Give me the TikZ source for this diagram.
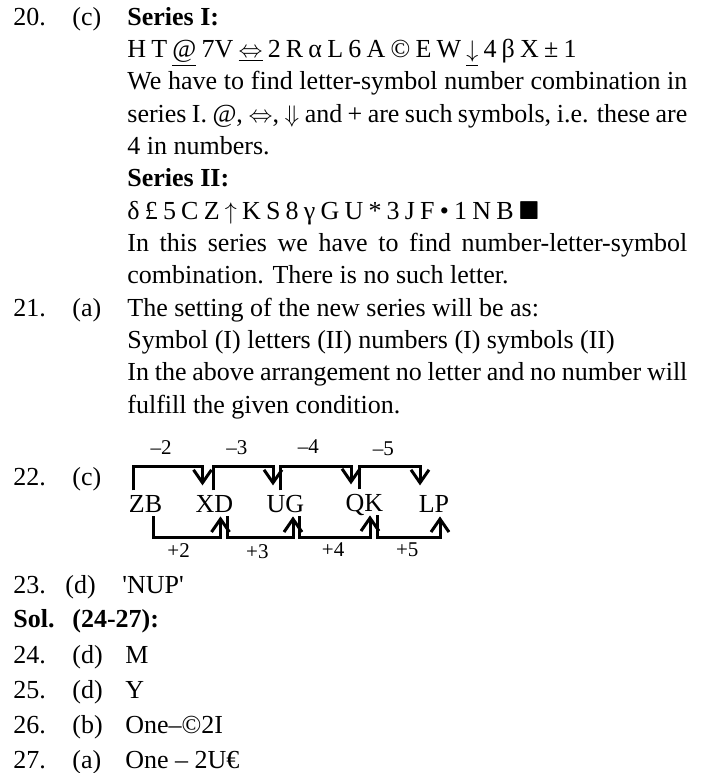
\documentclass[tikz,border=0pt]{standalone}
\usepackage{amssymb}
\usepackage{fontspec}
\setmainfont{Liberation Serif}
\newfontfamily\plainfont{Liberation Serif}
\usetikzlibrary{arrows.meta}

\newlength{\colwd}
\setlength{\colwd}{280pt}
\newcommand{\jline}[1]{\makebox[\colwd][s]{#1}}

\tikzset{%
  % Specifications for style of nodes:
         txt/.style = {anchor=base west, inner sep=0pt, font=\fontsize{13}{15}\selectfont},
        pair/.style = {anchor=base, inner sep=2pt, text height=8.6pt, text depth=0pt, font=\fontsize{13}{15}\selectfont},
         lbl/.style = {inner sep=1pt, font=\fontsize{10.5}{12}\selectfont},
     bracket/.style = {line width=1.5pt, -{Straight Barb[length=6.5pt,width=9pt]}},
}

\begin{document}
\begin{tikzpicture}[x=0.5pt, y=-0.5pt]
    \useasboundingbox (0,0) rectangle (704,773);

    % Question 20
    \node (n20)  [txt] at (13,25)      {20.};
    \node (a20)  [txt] at (72,25)      {(c)};
    \node (s1)   [txt] at (127,25)     {\textbf{Series I:}};
    \node (r1)   [txt] at (127,57.3)   {\spaceskip=0.2em H T \underline{@} 7V \underline{$\Leftrightarrow$} 2 R α L 6 A © E W \underline{$\downarrow$} 4 β X ± 1};
    \node (t1)   [txt] at (127,89.7)   {\jline{We have to find letter-symbol number combination in}};
    \node (t2)   [txt] at (127,122)    {\jline{series I. @, $\Leftrightarrow$, $\Downarrow$ and + are such symbols, i.e. these are}};
    \node (t3)   [txt] at (127,154.3)  {4 in numbers.};
    \node (s2)   [txt] at (127,186.7)  {\textbf{Series II:}};
    \node (r2)   [txt] at (127,219)    {\spaceskip=0.2em δ £ 5 C Z $\uparrow$ K S 8 γ G U * 3 J F • 1 N B $\blacksquare$};
    \node (t4)   [txt] at (127,251.3)  {\jline{In this series we have to find number-letter-symbol}};
    \node (t5)   [txt] at (127,283.7)  {combination. There is no such letter.};

    % Question 21
    \node (n21)  [txt] at (13,316)     {21.};
    \node (a21)  [txt] at (72,316)     {(a)};
    \node (t6)   [txt] at (127,316)    {The setting of the new series will be as:};
    \node (t7)   [txt] at (127,348.3)  {Symbol (I) letters (II) numbers (I) symbols (II)};
    \node (t8)   [txt] at (127,380.7)  {\jline{In the above arrangement no letter and no number will}};
    \node (t9)   [txt] at (127,413)    {fulfill the given condition.};

    % Question 22
    \node (n22)  [txt] at (13,485)     {22.};
    \node (a22)  [txt] at (72,485)     {(c)};
    \node (ZB)   [pair] at (145.5,512) {ZB};
    \node (XD)   [pair] at (214.5,512) {XD};
    \node (UG)   [pair] at (285.5,512) {UG};
    \node (QK)   [pair] at (364.5,511) {QK};
    \node (LP)   [pair] at (434,512)   {LP};

    % Draw arrows
    \draw[bracket, shorten >=2.5pt] ([xshift=-6pt]ZB.north) -- ++(0,-24) -| node[lbl, pos=0.2, above=4pt] {–2} ([xshift=-6pt]XD.north);
    \draw[bracket, shorten >=2.5pt] ([xshift=-0.75pt]XD.north) -- ++(0,-24) -| node[lbl, pos=0.2, above=4pt] {–3} ([xshift=-6.25pt]UG.north);
    \draw[bracket, shorten >=2.5pt] ([xshift=-2.75pt]UG.north) -- ++(0,-24) -| node[lbl, pos=0.2, above=4.5pt] {–4} ([xshift=-6.75pt]QK.north);
    \draw[bracket, shorten >=2.5pt] ([xshift=-2.75pt]QK.north) -- ++(0,-23) -| node[lbl, pos=0.2, above=3.5pt] {–5} ([xshift=-7pt]LP.north);

    \draw[bracket] ([xshift=3.75pt]ZB.south) -- ++(0,21) -| node[lbl, pos=0.19, below=1.5pt] {+2} ([xshift=3pt]XD.south);
    \draw[bracket] ([xshift=6.25pt]XD.south) -- ++(0,21) -| node[lbl, pos=0.23, below=2pt] {+3} ([xshift=3.75pt]UG.south);
    \draw[bracket] ([xshift=6.75pt]UG.south) -- ++(0,21) -| node[lbl, pos=0.24, below=1pt] {+4} ([xshift=2.75pt]QK.south);
    \draw[bracket] ([xshift=6.25pt]QK.south) -- ++(0,22) -| node[lbl, pos=0.24, below=1pt] {+5} ([xshift=3pt]LP.south);

    % Questions 23 to 27
    \node (n23)  [txt] at (13,593)     {23.};
    \node (a23)  [txt] at (65,593)     {(d)};
    \node (v23)  [txt] at (122,593)    {\plainfont 'NUP'};
    \node (sol)  [txt] at (13,627)     {\textbf{Sol.}};
    \node (rng)  [txt] at (72,627)     {\textbf{(24-27):}};
    \node (n24)  [txt] at (13,663)     {24.};
    \node (a24)  [txt] at (72,663)     {(d)};
    \node (v24)  [txt] at (125,663)    {M};
    \node (n25)  [txt] at (13,698)     {25.};
    \node (a25)  [txt] at (72,698)     {(d)};
    \node (v25)  [txt] at (125,698)    {Y};
    \node (n26)  [txt] at (13,733)     {26.};
    \node (a26)  [txt] at (72,733)     {(b)};
    \node (v26)  [txt] at (125,733)    {One–©2I};
    \node (n27)  [txt] at (13,768)     {27.};
    \node (a27)  [txt] at (72,768)     {(a)};
    \node (v27)  [txt] at (125,768)    {One – 2U€};
\end{tikzpicture}
\end{document}
